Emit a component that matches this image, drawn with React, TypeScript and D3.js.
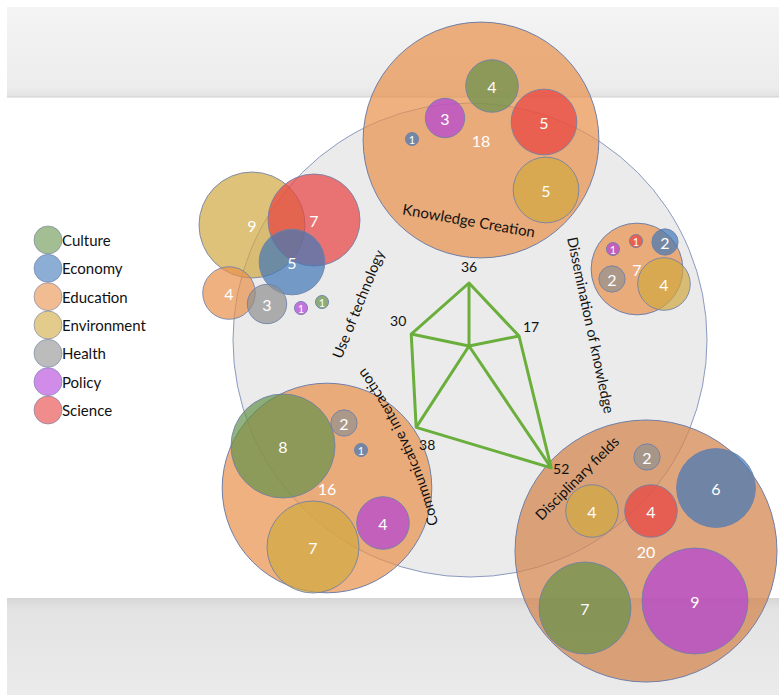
import React from "react";
import * as d3 from "d3";

// ---------- DATA ----------
const CATEGORIES = ["Culture", "Economy", "Education", "Environment", "Health", "Policy", "Science"];

const DIMENSIONS = [
  "Use of technology",
  "Knowledge Creation",
  "Dissemination of knowledge",
  "Communicative interaction",
  "Disciplinary fields",
];
const DIMENSION_SCORES = [30, 36, 17, 38, 52];
const DIMENSION_TOTALS = [0, 18, 7, 16, 20]; // 0 = no container bubble

const USE_OF_TECH_CATS = ["Environment", "Science", "Economy", "Education", "Health", "Policy", "Culture"];
const USE_OF_TECH_VALUES = [9, 7, 5, 4, 3, 1, 1];
const KNOWLEDGE_CATS = ["Culture", "Policy", "Science", "Environment", "Economy"];
const KNOWLEDGE_VALUES = [4, 3, 5, 5, 1];
const DISSEMINATION_CATS = ["Economy", "Policy", "Science", "Health", "Environment"];
const DISSEMINATION_VALUES = [2, 1, 1, 2, 4];
const COMMUNICATIVE_CATS = ["Culture", "Health", "Economy", "Policy", "Environment"];
const COMMUNICATIVE_VALUES = [8, 2, 1, 4, 7];
const DISCIPLINARY_CATS = ["Health", "Economy", "Environment", "Science", "Culture", "Policy"];
const DISCIPLINARY_VALUES = [2, 6, 4, 4, 7, 9];

const CLUSTER_CATS = [USE_OF_TECH_CATS, KNOWLEDGE_CATS, DISSEMINATION_CATS, COMMUNICATIVE_CATS, DISCIPLINARY_CATS];
const CLUSTER_VALUES = [USE_OF_TECH_VALUES, KNOWLEDGE_VALUES, DISSEMINATION_VALUES, COMMUNICATIVE_VALUES, DISCIPLINARY_VALUES];

// ---------- STYLE / LAYOUT ----------
const CATEGORY_COLORS = ["#64924a", "#4078b8", "#e8904a", "#d0a840", "#909090", "#b040d8", "#e84040"];
const BUBBLE_OPACITY = 0.7;
const CONTAINER_COLORS = ["none", "#e8904a", "#e8904a", "#e8904a", "#d4874f"];
const CONTAINER_OPACITY = [0, 0.7, 0.7, 0.7, 0.74];
const STROKE = "#6f7fa8";
const FONT = "Lato, 'Open Sans', sans-serif";

const CLUSTER_CENTERS = [[275, 260], [481, 140], [637, 269], [327, 488], [646, 551]];
const BUBBLE_OFFSETS = [
  [[-23, -35], [39, -40], [17, 2], [-46, 33], [-8, 44], [26, 48], [47, 42]],
  [[11, -54], [-36, -22], [63, -18], [65, 50], [-69, -1]],
  [[28, -27], [-24, -20], [-1, -28], [-25, 10], [27, 15]],
  [[-44, -42], [17, -65], [34, -38], [56, 35], [-14, 59]],
  [[1, -94], [70, -63], [-54, -40], [5, -40], [-61, 57], [49, 50]],
];

const HUB = { cx: 470, cy: 340, r: 237 };
const RADAR_CENTER = [469, 346];
const RADAR_ANGLES = [191.7, -90, -11.3, 123, 56]; // degrees, clockwise from +x
const RADAR_LABEL_OFFSETS = [[-13, -14], [0, -17], [12, -10], [11, 17], [10, 1]];

// straight rotated dimension labels: [x, y, rotation]; index 3 uses an arc
const LABEL_PLACEMENT = [[358, 304, -68], [469, 220, 10], [591, 325, 78], null, [577, 478, -45]];
const COMM_ARC = { cx: -2, cy: 635, r: 448, mid: -0.4385, span: 0.3 };

const W = 779;
const H = 695;

export default function App() {
  const catColor = d3.scaleOrdinal<string, string>().domain(CATEGORIES).range(CATEGORY_COLORS);
  const rInner = d3.scaleLinear().domain([0, 7, 8, 9]).range([0, 46, 52, 53]);
  const rContainer = d3.scaleLinear().domain([0, 20]).range([0, 131]);
  const radarR = d3.scaleLinear().domain([17, 30, 36, 38, 52]).range([51, 59, 63, 97, 147]);

  const radarPts = DIMENSION_SCORES.map((v, i) => {
    const a = (RADAR_ANGLES[i] * Math.PI) / 180;
    const d = radarR(v);
    return [RADAR_CENTER[0] + d * Math.cos(a), RADAR_CENTER[1] + d * Math.sin(a)] as [number, number];
  });
  // polygon order around the radar: top, right, bottom-right, bottom-left, left
  const ring = [1, 2, 4, 3, 0].map((i) => radarPts[i]);
  const polygon = d3.line().curve(d3.curveLinearClosed)(ring) || "";

  const commPath = d3.path();
  commPath.arc(COMM_ARC.cx, COMM_ARC.cy, COMM_ARC.r, COMM_ARC.mid + COMM_ARC.span, COMM_ARC.mid - COMM_ARC.span, true);

  const legendY = d3.scalePoint<string>().domain(CATEGORIES).range([240, 410]);

  return (
    <div style={{ position: "absolute", left: 0, top: 0 }}>
      <svg width={W} height={H} style={{ display: "block", fontFamily: FONT }}>
        <defs>
          <linearGradient id="topBand" x1="0" y1="0" x2="0" y2="1">
            <stop offset="0" stopColor="#f4f4f4" />
            <stop offset="0.9" stopColor="#ececec" />
            <stop offset="1" stopColor="#e2e2e2" />
          </linearGradient>
          <linearGradient id="botBand" x1="0" y1="0" x2="0" y2="1">
            <stop offset="0" stopColor="#d6d6d6" />
            <stop offset="0.12" stopColor="#e3e3e3" />
            <stop offset="1" stopColor="#ebebeb" />
          </linearGradient>
          <path id="commArc" d={commPath.toString()} />
        </defs>
        <rect x={0} y={0} width={W} height={H} fill="#ffffff" />
        <rect x={7} y={7} width={W - 7} height={90} fill="url(#topBand)" />
        <line x1={7} x2={W} y1={97} y2={97} stroke="#d2d2d2" strokeWidth={1} />
        <rect x={7} y={598} width={W - 7} height={H - 598} fill="url(#botBand)" />

        {/* hub circle */}
        <circle cx={HUB.cx} cy={HUB.cy} r={HUB.r} fill="#ebebeb" stroke="#8b9ac0" strokeWidth={1} />

        {/* clusters */}
        {DIMENSIONS.map((dim, ci) => {
          const [cx, cy] = CLUSTER_CENTERS[ci];
          const total = DIMENSION_TOTALS[ci];
          return (
            <g key={dim}>
              {total > 0 && (
                <circle
                  cx={cx}
                  cy={cy}
                  r={rContainer(total)}
                  fill={CONTAINER_COLORS[ci]}
                  fillOpacity={CONTAINER_OPACITY[ci]}
                  stroke={STROKE}
                  strokeWidth={1}
                />
              )}
              {CLUSTER_VALUES[ci].map((v, bi) => {
                const [dx, dy] = BUBBLE_OFFSETS[ci][bi];
                const r = rInner(v);
                return (
                  <g key={bi}>
                    <circle
                      cx={cx + dx}
                      cy={cy + dy}
                      r={r}
                      fill={catColor(CLUSTER_CATS[ci][bi])}
                      fillOpacity={BUBBLE_OPACITY}
                      stroke={STROKE}
                      strokeOpacity={0.85}
                      strokeWidth={1}
                    />
                    <text
                      x={cx + dx}
                      y={cy + dy}
                      textAnchor="middle"
                      dominantBaseline="central"
                      fill="#ffffff"
                      fontSize={r < 10 ? 11 : 16}
                    >
                      {v}
                    </text>
                  </g>
                );
              })}
              {total > 0 && (
                <text x={cx} y={cy} textAnchor="middle" dominantBaseline="central" fill="#ffffff" fontSize={16}>
                  {total}
                </text>
              )}
            </g>
          );
        })}

        {/* radar (drawn above the clusters) */}
        <g fill="none" stroke="#6aae3c" strokeWidth={3} strokeLinejoin="round">
          <path d={polygon} />
          {radarPts.map((p, i) => (
            <line key={i} x1={RADAR_CENTER[0]} y1={RADAR_CENTER[1]} x2={p[0]} y2={p[1]} />
          ))}
        </g>
        {radarPts.map((p, i) => (
          <text
            key={i}
            x={p[0] + RADAR_LABEL_OFFSETS[i][0]}
            y={p[1] + RADAR_LABEL_OFFSETS[i][1]}
            textAnchor="middle"
            dominantBaseline="central"
            fontSize={14}
            fill="#111"
          >
            {DIMENSION_SCORES[i]}
          </text>
        ))}

        {/* dimension labels */}
        {DIMENSIONS.map((dim, i) => {
          const pl = LABEL_PLACEMENT[i];
          if (!pl) {
            return (
              <text key={dim} fontSize={14.5} fill="#111" dominantBaseline="central">
                <textPath href="#commArc" startOffset="50%" textAnchor="middle">
                  {dim}
                </textPath>
              </text>
            );
          }
          return (
            <text
              key={dim}
              transform={`translate(${pl[0]},${pl[1]}) rotate(${pl[2]})`}
              textAnchor="middle"
              dominantBaseline="central"
              fontSize={i === 1 ? 15 : 14.5}
              fill="#111"
            >
              {dim}
            </text>
          );
        })}

        {/* legend */}
        {CATEGORIES.map((c) => (
          <g key={c} transform={`translate(48,${legendY(c)})`}>
            <circle r={14} fill={catColor(c)} fillOpacity={0.6} stroke={STROKE} strokeOpacity={0.6} strokeWidth={1} />
            <text x={14} y={0} dominantBaseline="central" fontSize={15} fill="#111">
              {c}
            </text>
          </g>
        ))}
      </svg>
    </div>
  );
}
